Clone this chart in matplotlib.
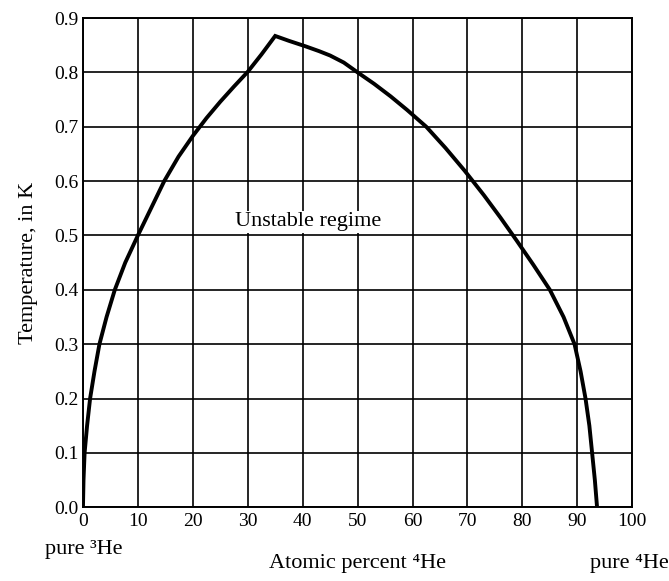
import matplotlib.pyplot as plt

# --- Phase separation curve ---
pct_he4 = [0, 0.1, 0.3, 0.75, 1.3, 2.1, 3.0, 4.3, 5.8, 7.7, 10, 12.4, 14.8, 17.4, 20,
           22.5, 25, 27.5, 30, 32.5, 35,
           37.5, 40.5, 43, 45, 47.5, 50, 53, 56, 59, 62.5, 66, 69.5, 73, 76, 79,
           82, 85, 87.5, 89.5, 90.6, 91.5, 92.2, 92.7, 93.2, 93.6]
temp_k = [0.0, 0.05, 0.1, 0.15, 0.2, 0.25, 0.3, 0.35, 0.4, 0.45, 0.5, 0.55, 0.6, 0.645, 0.683,
          0.716, 0.746, 0.774, 0.801, 0.833, 0.867,
          0.858, 0.848, 0.839, 0.831, 0.818, 0.80, 0.779, 0.756, 0.731, 0.70, 0.661, 0.619, 0.574, 0.533, 0.49,
          0.446, 0.40, 0.35, 0.30, 0.25, 0.20, 0.15, 0.10, 0.05, 0.0]

x_ticks = [0, 10, 20, 30, 40, 50, 60, 70, 80, 90, 100]
y_ticks = [0.0, 0.1, 0.2, 0.3, 0.4, 0.5, 0.6, 0.7, 0.8, 0.9]

serif = ['Liberation Serif', 'DejaVu Serif']
plt.rcParams['font.family'] = serif

fig = plt.figure(figsize=(6.69, 5.81), dpi=100)
ax = fig.add_axes([0.124, 0.127, 0.821, 0.842])

ax.set_xlim(0, 100)
ax.set_ylim(0, 0.9)
ax.set_xticks(x_ticks)
ax.set_yticks(y_ticks)
ax.set_yticklabels([f'{v:.1f}' for v in y_ticks])
ax.grid(True, color='black', linewidth=1.2)
ax.set_axisbelow(True)
for s in ax.spines.values():
    s.set_linewidth(1.4)
ax.tick_params(length=0, labelsize=14)
ax.tick_params(axis='x', pad=4)
ax.tick_params(axis='y', pad=3)

ax.plot(pct_he4, temp_k, color='black', linewidth=2.8, solid_joinstyle='miter')

ax.text(41, 0.525, 'Unstable regime', fontsize=16, ha='center', va='center',
        bbox=dict(facecolor='white', edgecolor='none', pad=1))

ax.set_ylabel('Temperature, in K', fontsize=16, labelpad=12)

fig.text(0.067, 0.055, 'pure ³He', fontsize=16, ha='left', va='center')
fig.text(0.534, 0.030, 'Atomic percent ⁴He', fontsize=16, ha='center', va='center')
fig.text(0.999, 0.030, 'pure ⁴He', fontsize=16, ha='right', va='center')

fig.savefig('out.png', dpi=100)
